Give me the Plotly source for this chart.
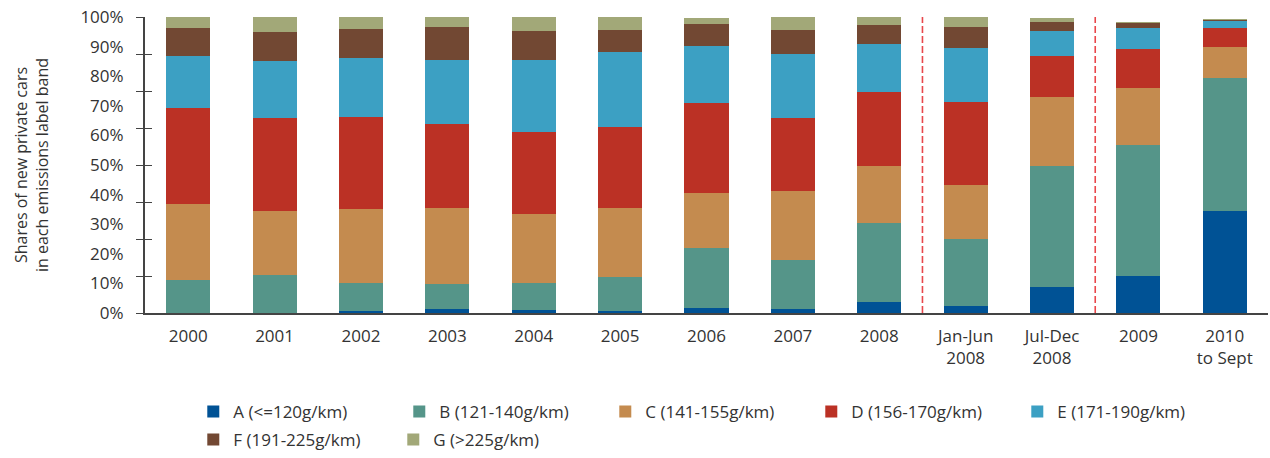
import plotly.graph_objects as go

categories = ["2000", "2001", "2002", "2003", "2004", "2005", "2006", "2007", "2008",
              "Jan-Jun<br>2008", "Jul-Dec<br>2008", "2009", "2010<br>to Sept"]

band_A = [0, 0, 0.7, 1.3, 1.0, 0.7, 1.7, 1.3, 3.7, 2.4, 8.8, 12.5, 34.3]
band_B = [11.1, 12.8, 9.4, 8.5, 9.1, 11.4, 20.2, 16.5, 26.6, 22.5, 41.0, 44.4, 45.2]
band_C = [25.6, 21.5, 24.9, 25.6, 23.2, 23.3, 18.8, 23.3, 19.5, 18.5, 23.3, 19.2, 10.4]
band_D = [32.7, 31.7, 31.1, 28.6, 28.0, 27.6, 30.3, 24.9, 24.9, 28.0, 13.8, 13.1, 6.4]
band_E = [17.5, 19.2, 20.1, 21.5, 24.2, 25.2, 19.2, 21.5, 16.2, 18.2, 8.4, 7.1, 2.4]
band_F = [9.4, 9.7, 9.8, 11.1, 9.8, 7.4, 7.4, 8.1, 6.4, 7.0, 3.0, 1.7, 0.3]
band_G = [3.7, 5.1, 4.0, 3.4, 4.7, 4.4, 2.1, 4.4, 2.7, 3.4, 1.4, 0.3, 0.3]

series_names = ["A (<=120g/km)", "B (121-140g/km)", "C (141-155g/km)", "D (156-170g/km)",
                "E (171-190g/km)", "F (191-225g/km)", "G (>225g/km)"]
series_values = [band_A, band_B, band_C, band_D, band_E, band_F, band_G]
colors = ["#005295", "#559589", "#c48b4f", "#bb3125", "#3ca0c3", "#724833", "#a2a878"]
legend_row = ["legend", "legend", "legend", "legend", "legend", "legend2", "legend2"]

label_ticks = [0, 10, 20, 30, 40, 50, 60, 70, 80, 90, 100]
label_text = [f"{v}%" for v in label_ticks]
mark_ticks = [0, 12.5, 25, 37.5, 50, 62.5, 75, 87.5, 100]

# separators after these category indices
separator_after = [8, 10]

FONT = "Open Sans"
TXT = "#333333"
AX = "#444444"

fig = go.Figure()
x_idx = list(range(len(categories)))
for name, vals, col, lg in zip(series_names, series_values, colors, legend_row):
    fig.add_trace(go.Bar(x=x_idx, y=vals, name=name, legend=lg,
                         marker=dict(color=col, line=dict(width=0))))

# invisible traces for tick-mark axes
fig.add_trace(go.Scatter(x=[None], y=[None], yaxis="y2", showlegend=False, hoverinfo="skip"))
fig.add_trace(go.Scatter(x=[None], y=[None], yaxis="y3", showlegend=False, hoverinfo="skip"))

for s in separator_after:
    fig.add_shape(type="line", xref="x", yref="y", x0=s + 0.5, x1=s + 0.5, y0=0, y1=100,
                  line=dict(color="#e8474b", width=1.6, dash="7px,3px"))

legend_common = dict(orientation="h", xanchor="left", yanchor="middle",
                     traceorder="normal", entrywidthmode="pixels",
                     font=dict(family=FONT, size=17, color=TXT), itemclick=False,
                     bgcolor="rgba(0,0,0,0)")

fig.update_layout(
    width=1270, height=458,
    margin=dict(l=145, r=2, t=17, b=144),
    paper_bgcolor="white", plot_bgcolor="white",
    barmode="stack", bargap=0.49,
    font=dict(family=FONT, size=16, color=TXT),
    showlegend=True,
    legend=dict(x=0.043, y=-0.330, entrywidth=161, **legend_common),
    legend2=dict(x=0.043, y=-0.424, entrywidth=155, **legend_common),
    xaxis=dict(range=[-0.5, 12.5], tickmode="array", tickvals=x_idx, ticktext=categories,
               showline=True, linecolor=AX, linewidth=1.5, ticks="outside",
               ticklen=7, tickcolor="rgba(0,0,0,0)", showgrid=False, zeroline=False,
               tickfont=dict(size=17, color=TXT), automargin=False),
    yaxis=dict(range=[0, 100], tickmode="array", tickvals=label_ticks, ticktext=label_text,
               showgrid=False, zeroline=False, showline=False, ticks="outside", ticklen=17,
               tickcolor="rgba(0,0,0,0)", tickfont=dict(size=17, color=TXT), automargin=False,
               title=dict(text="Shares of new private cars<br>in each emissions label band",
                          font=dict(size=16, color=TXT), standoff=27)),
    yaxis2=dict(range=[0, 100], overlaying="y", side="left", tickmode="array",
                tickvals=mark_ticks, showticklabels=False, ticks="outside", ticklen=7,
                tickcolor=AX, tickwidth=1.3, showline=True, linecolor=AX, linewidth=1.5,
                showgrid=False, zeroline=False, automargin=False),
    yaxis3=dict(range=[0, 100], overlaying="y", side="left", tickmode="array",
                tickvals=mark_ticks, showticklabels=False, ticks="inside", ticklen=7,
                tickcolor=AX, tickwidth=1.3, showline=False,
                showgrid=False, zeroline=False, automargin=False),
)

fig.write_html("out.html", config={"displayModeBar": False},
               post_script="document.body.style.margin='0px';")
